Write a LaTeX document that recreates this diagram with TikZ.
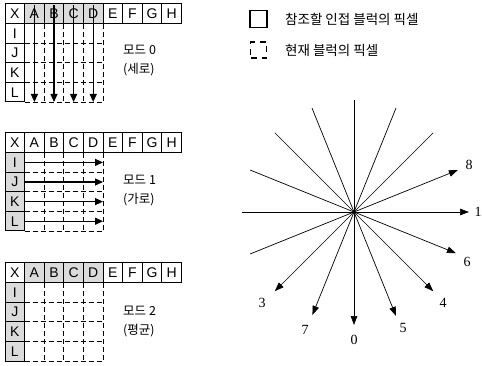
\documentclass[tikz,border=0pt]{standalone}
\usepackage{fontspec}
\setmainfont{Liberation Serif}
\setsansfont{Liberation Sans}
\newfontfamily\kr{Noto Sans CJK KR}
\usetikzlibrary{arrows.meta,calc}

\tikzset{
  cell/.style={draw, line width=1pt, minimum size=19.6pt, inner sep=0pt, font=\sffamily\fontsize{14}{14}\selectfont},
  blk/.style={line width=0.9pt, dash pattern=on 5pt off 3pt},
  arr/.style={line width=1.2pt, -{Triangle[length=8pt,width=7pt]}},
  rayarr/.style={line width=0.7pt, -{Triangle[length=9pt,width=6.5pt]}},
  num/.style={font=\fontsize{14}{14}\selectfont, inner sep=0pt},
  krlab/.style={font=\kr\fontsize{12.5}{19}\selectfont, inner sep=0pt, align=left},
  legtext/.style={font=\kr\fontsize{13.5}{14}\selectfont, inner sep=0pt},
  legbox/.style={draw, line width=1.1pt, inner sep=0pt}
}

% prefix, y0, top fill, left fill
\newcommand{\mygrid}[4]{%
  \fill[#3] ({5+19.6},{#2}) rectangle ({5+5*19.6},{#2+19.6});
  \fill[#4] ({5},{#2+19.6}) rectangle ({5+19.6},{#2+5*19.6});
  \foreach \x in {2,3,4,5} \draw[blk] ({5+\x*19.6},{#2+19.6}) -- ({5+\x*19.6},{#2+5*19.6});
  \foreach \y in {2,3,4,5} \draw[blk] ({5+19.6},{#2+\y*19.6}) -- ({5+5*19.6},{#2+\y*19.6});
  \foreach \L [count=\j from 0] in {X,A,B,C,D,E,F,G,H}
    \node[cell] (#1\L) at ({5+19.6*(\j+0.5)},{#2+9.8}) {\L};
  \foreach \L [count=\i from 1] in {I,J,K,L}
    \node[cell] (#1\L) at ({5+9.8},{#2+19.6*(\i+0.5)}) {\L};
}

\begin{document}
\begin{tikzpicture}[x=1pt,y=-1pt]
\useasboundingbox (0,0) rectangle (482,366);

% ---- mode 0 ----
\mygrid{ga}{4}{black!14}{white}
\foreach \L [count=\j from 1] in {A,B,C,D} {
  \coordinate (ga\L end) at ({5+19.6*(\j+0.5)},{4+5*19.6});
  \draw[arr, shorten <=2pt] (ga\L.north) -- (ga\L end);
}
\node[krlab, anchor=west] (m0) at (123,61) {모드 0\\(세로)};

% ---- mode 1 ----
\mygrid{gb}{133}{white}{black!14}
\foreach \L [count=\i from 1] in {I,J,K,L} {
  \coordinate (gb\L end) at ({5+5*19.6},{133+19.6*(\i+0.5)});
  \draw[arr] (gb\L.east) -- (gb\L end);
}
\node[krlab, anchor=west] (m1) at (123,191) {모드 1\\(가로)};

% ---- mode 2 ----
\mygrid{gc}{263}{black!14}{black!14}
\node[krlab, anchor=west] (m2) at (123,322) {모드 2\\(평균)};

% ---- legend ----
\node[legbox, minimum size=17pt] (lsolid) at (258.5,19) {};
\node[legbox, dash pattern=on 6pt off 5pt, minimum size=16pt] (ldash) at (258.5,50) {};
\node[legtext, anchor=west] (lt1) at (285,19) {참조할 인접 블럭의 픽셀};
\node[legtext, anchor=west] (lt2) at (285,50) {현재 블럭의 픽셀};

% ---- direction star ----
\coordinate (c) at (354,212);
\foreach \a/\n/\r in {0/1/115, -90/0/113, 22/8/112, -22/6/110, -45/4/112, -135/3/112, -68/5/112, -112/7/111} {
  \pgfmathsetmacro\b{\a+180}
  \coordinate (t\n) at ($(c)+(\b:112pt)$);
  \coordinate (h\n) at ($(c)+(\a:\r pt)$);
  \draw[rayarr] (t\n) -- (h\n);
}
\node[num] (n1) at (478,212) {1};
\node[num] (n8) at (469,165) {8};
\node[num] (n6) at (467,262) {6};
\node[num] (n4) at (443,303) {4};
\node[num] (n5) at (403,328) {5};
\node[num] (n0) at (354,340) {0};
\node[num] (n7) at (305,330) {7};
\node[num] (n3) at (262,303) {3};
\end{tikzpicture}
\end{document}
